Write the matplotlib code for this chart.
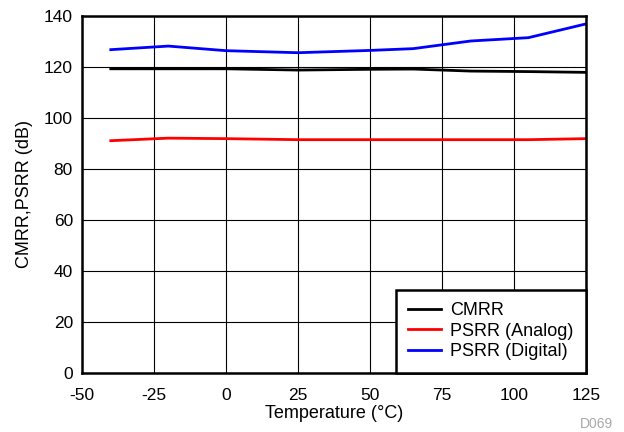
import matplotlib
matplotlib.use("Agg")
import matplotlib.pyplot as plt

plt.rcParams['font.family'] = ['Liberation Sans', 'DejaVu Sans']

temperature = [-40, -20, 0, 25, 50, 65, 85, 105, 125]
cmrr = [119.3, 119.3, 119.3, 118.8, 119.1, 119.2, 118.4, 118.2, 117.9]
psrr_analog = [91.1, 92.1, 91.9, 91.5, 91.5, 91.5, 91.5, 91.5, 91.9]
psrr_digital = [126.8, 128.2, 126.4, 125.6, 126.5, 127.2, 130.2, 131.5, 136.9]

x_ticks = [-50, -25, 0, 25, 50, 75, 100, 125]
y_ticks = [0, 20, 40, 60, 80, 100, 120, 140]

fig = plt.figure(figsize=(6.24, 4.32), dpi=100)
L, R, T, B = 82, 586, 16, 373
ax = fig.add_axes([L/624, 1-B/432, (R-L)/624, (B-T)/432])

ax.plot(temperature, cmrr, color='black', lw=2, label='CMRR')
ax.plot(temperature, psrr_analog, color='#ff0000', lw=2, label='PSRR (Analog)')
ax.plot(temperature, psrr_digital, color='#0000ff', lw=2, label='PSRR (Digital)')

ax.set_xlim(-50, 125)
ax.set_ylim(0, 140)
ax.set_xticks(x_ticks)
ax.set_yticks(y_ticks)
ax.set_xticklabels([str(v) for v in x_ticks])
ax.grid(True, color='black', lw=0.8)
ax.set_axisbelow(True)
ax.tick_params(length=0, labelsize=12.5)
ax.tick_params(axis='x', pad=11)
ax.tick_params(axis='y', pad=6.5)
for s in ax.spines.values():
    s.set_linewidth(1.8)

ax.set_xlabel('Temperature (°C)', fontsize=13, labelpad=1)
ax.set_ylabel('CMRR,PSRR (dB)', fontsize=13, labelpad=8)

leg = ax.legend(loc='lower right', fontsize=13, frameon=True, fancybox=False,
                borderaxespad=0, handlelength=1.8, labelspacing=0.2,
                borderpad=0.7, handletextpad=0.5)
leg.get_frame().set_edgecolor('black')
leg.get_frame().set_linewidth(1.8)
leg.get_frame().set_alpha(1)

fig.text(613/624, 1-424/432, 'D069', fontsize=10, color='#a8a8a8', ha='right', va='center')

fig.savefig('out.png', dpi=100)
